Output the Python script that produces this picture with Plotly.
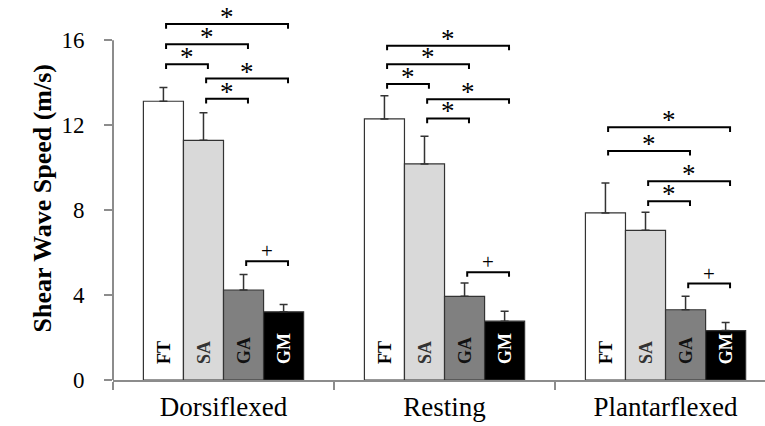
import plotly.graph_objects as go

conditions = ["Dorsiflexed", "Resting", "Plantarflexed"]
muscles = ["FT", "SA", "GA", "GM"]
means = {
    "FT": [13.13, 12.30, 7.87],
    "SA": [11.29, 10.18, 7.05],
    "GA": [4.24, 3.94, 3.31],
    "GM": [3.21, 2.77, 2.33],
}
sds = {
    "FT": [0.65, 1.09, 1.41],
    "SA": [1.30, 1.30, 0.85],
    "GA": [0.73, 0.63, 0.63],
    "GM": [0.35, 0.47, 0.38],
}
fill_colors = {"FT": "#ffffff", "SA": "#d9d9d9", "GA": "#808080", "GM": "#000000"}
text_colors = {"FT": "#000000", "SA": "#333333", "GA": "#111111", "GM": "#ffffff"}

# significance brackets: (condition index, muscle i, muscle j, level, symbol)
brackets = [
    (0, 0, 3, 16.77, "*"), (0, 0, 2, 15.81, "*"), (0, 0, 1, 14.87, "*"),
    (0, 1, 3, 14.20, "*"), (0, 1, 2, 13.25, "*"), (0, 2, 3, 5.59, "+"),
    (1, 0, 3, 15.75, "*"), (1, 0, 2, 14.87, "*"), (1, 0, 1, 13.94, "*"),
    (1, 1, 3, 13.23, "*"), (1, 1, 2, 12.32, "*"), (1, 2, 3, 5.08, "+"),
    (2, 0, 3, 11.90, "*"), (2, 0, 2, 10.79, "*"),
    (2, 1, 3, 9.36, "*"), (2, 1, 2, 8.42, "*"), (2, 2, 3, 4.54, "+"),
]

y_ticks = [0, 4, 8, 12, 16]

SERIF = "Liberation Serif"
BARGAP = 0.275
bar_w = (1 - BARGAP) / len(muscles)

fig = go.Figure()
for m in muscles:
    fig.add_trace(go.Bar(
        name=m, x=conditions, y=means[m],
        marker=dict(color=fill_colors[m], line=dict(color="#333333", width=1.2)),
        error_y=dict(type="data", array=sds[m], arrayminus=[0] * len(conditions),
                     symmetric=False, color="#333333", thickness=1.5, width=4),
    ))

shapes = []
annotations = []

# muscle labels inside bars, rotated
for k, m in enumerate(muscles):
    for ci in range(len(conditions)):
        annotations.append(dict(x=ci + (k - 1.5) * bar_w, y=0, xref="x", yref="y",
                                text=m, textangle=-90, showarrow=False,
                                xanchor="center", yanchor="bottom", yshift=14,
                                font=dict(family=SERIF, size=18, color=text_colors[m],
                                          weight="bold")))

drop = 0.22
for ci, i, j, lvl, sym in brackets:
    xa = ci + (i - 1.5) * bar_w + 0.012
    xb = ci + (j - 1.5) * bar_w + 0.02
    shapes.append(dict(type="path",
                       path=f"M {xa},{lvl - drop} L {xa},{lvl} L {xb},{lvl} L {xb},{lvl - drop}",
                       xref="x", yref="y", line=dict(color="#000000", width=2)))
    annotations.append(dict(x=(xa + xb) / 2, y=lvl, xref="x", yref="y", text=sym,
                            showarrow=False, yanchor="middle",
                            yshift=7 if sym == "*" else 10,
                            font=dict(family=SERIF, size=27 if sym == "*" else 21,
                                      color="#000000")))

# y axis line from 0 to 16 only
shapes.append(dict(type="line", xref="paper", yref="y", x0=0, x1=0, y0=0, y1=16,
                   line=dict(color="#8c8c8c", width=2)))

annotations.append(dict(text="Shear Wave Speed (m/s)", xref="paper", yref="y",
                        x=(26 - 113) / 652, y=8.53, textangle=-90, showarrow=False,
                        font=dict(family=SERIF, size=26, color="#000000", weight="bold")))

fig.update_layout(
    width=765, height=426,
    margin=dict(l=113, r=0, t=0, b=46),
    paper_bgcolor="white", plot_bgcolor="white",
    barmode="group", bargap=BARGAP, bargroupgap=0,
    showlegend=False,
    shapes=shapes, annotations=annotations,
    xaxis=dict(range=[-0.5, 2.45], showline=True, linecolor="#8c8c8c", linewidth=2,
               ticks="outside", tickson="boundaries", ticklen=8, tickcolor="#8c8c8c",
               tickwidth=2, showgrid=False, zeroline=False, automargin=False,
               ticklabelstandoff=2,
               tickfont=dict(family=SERIF, size=27, color="#000000")),
    yaxis=dict(range=[0, 17.9], showline=False, ticks="outside", ticklen=8,
               tickcolor="#8c8c8c", tickwidth=2, tickvals=y_ticks,
               showgrid=False, zeroline=False, ticklabelstandoff=15, automargin=False,
               tickfont=dict(family=SERIF, size=23, color="#000000")),
)

fig.write_html("out.html", config={"displayModeBar": False},
               post_script="document.body.style.margin='0px';")
